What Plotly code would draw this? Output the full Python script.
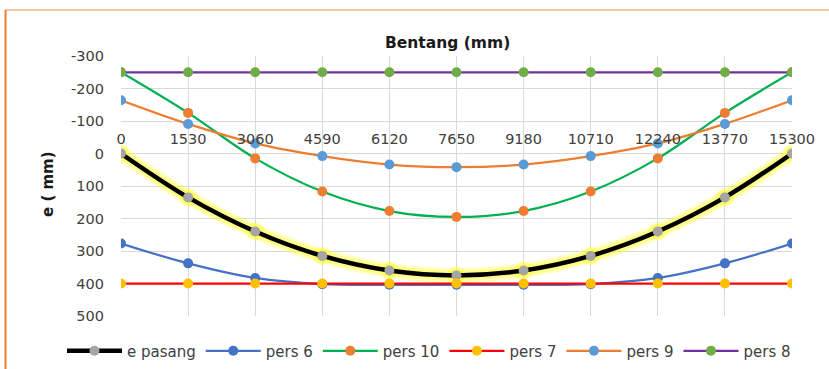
import plotly.graph_objects as go

# ---- data ----
bentang = [0, 1530, 3060, 4590, 6120, 7650, 9180, 10710, 12240, 13770, 15300]
e_pasang = [0, 135, 240, 315, 360, 375, 360, 315, 240, 135, 0]
pers_6 = [277, 338, 383, 402, 404, 404, 404, 402, 383, 338, 277]
pers_10 = [-250, -125, 15, 117, 177, 195, 177, 117, 15, -125, -250]
pers_7 = [400, 400, 400, 400, 400, 400, 400, 400, 400, 400, 400]
pers_9 = [-164, -91, -31, 8, 34, 42, 34, 8, -31, -91, -164]
pers_8 = [-250, -250, -250, -250, -250, -250, -250, -250, -250, -250, -250]
y_ticks = [-300, -200, -100, 0, 100, 200, 300, 400, 500]
y_ticktext = ["-300", "-200", "-100", "0", "100", "200", "300", "400", "500"]
x_ticktext = [str(v) for v in bentang]

# ---- layout geometry (pixels) ----
W, H = 829, 369
L, R, T, B = 121, 792, 56, 316
pw, ph = R - L, B - T


def px(x):
    return (x - L) / pw


def py(y):
    return (B - y) / ph


FONT = "DejaVu Sans"
fig = go.Figure()

# glow under e pasang
fig.add_trace(go.Scatter(x=bentang, y=e_pasang, mode="lines+markers",
                         line=dict(color="rgba(255,255,40,0.28)", width=15, shape="spline"),
                         marker=dict(size=19, color="rgba(255,255,40,0.28)"),
                         showlegend=False, hoverinfo="skip"))
fig.add_trace(go.Scatter(x=bentang, y=e_pasang, mode="lines+markers",
                         line=dict(color="rgba(255,250,60,0.45)", width=10, shape="spline"),
                         marker=dict(size=15, color="rgba(255,250,60,0.45)"),
                         showlegend=False, hoverinfo="skip"))

series = [
    ("e pasang", e_pasang, "#000000", "#a5a5a5", 4.5),
    ("pers 6", pers_6, "#4472c4", "#4472c4", 2.25),
    ("pers 10", pers_10, "#00b050", "#ed7d31", 2.25),
    ("pers 7", pers_7, "#ff0000", "#ffc000", 2.25),
    ("pers 9", pers_9, "#ed7d31", "#5b9bd5", 2.25),
    ("pers 8", pers_8, "#7030a0", "#70ad47", 2.25),
]
for name, vals, lc, mc, lw in series:
    fig.add_trace(go.Scatter(x=bentang, y=vals, name=name, mode="lines+markers",
                             line=dict(color=lc, width=lw, shape="spline", smoothing=1),
                             marker=dict(size=10, color=mc, line=dict(width=0))))

# position of x axis labels: just above y=0 line
y0_px = B - (500 - 0) / 800 * ph

fig.update_layout(
    width=W, height=H,
    margin=dict(l=L, r=W - R, t=T, b=H - B, pad=0, autoexpand=False),
    paper_bgcolor="white", plot_bgcolor="white",
    showlegend=True,
    legend=dict(orientation="h", x=px(62), xanchor="left", y=py(351), yanchor="middle",
                font=dict(family=FONT, size=15, color="#404040"), itemwidth=55,
                traceorder="normal"),
    xaxis=dict(range=[0, 15300], tickvals=bentang, ticktext=x_ticktext,
               showgrid=True, gridcolor="#d9d9d9", gridwidth=1.3, zeroline=False,
               showline=False, side="top", anchor="free", position=py(y0_px),
               ticks="", ticklabelstandoff=7,
               tickfont=dict(family=FONT, size=14.5, color="#404040")),
    yaxis=dict(range=[500, -300], tickvals=y_ticks, ticktext=y_ticktext,
               showgrid=True, gridcolor="#d9d9d9", gridwidth=1.3, zeroline=False,
               showline=False, ticks="", ticklabelstandoff=16,
               tickfont=dict(family=FONT, size=14.5, color="#404040")),
    annotations=[
        dict(text="<b>Bentang (mm)</b>", xref="paper", yref="paper",
             x=px(447), y=py(43), xanchor="center", yanchor="middle", showarrow=False,
             font=dict(family=FONT, size=15.5, color="#1a1a1a")),
        dict(text="<b>e ( mm)</b>", xref="paper", yref="paper", textangle=-90,
             x=px(48), y=py(184), xanchor="center", yanchor="middle", showarrow=False,
             font=dict(family=FONT, size=15, color="#1a1a1a")),
    ],
    shapes=[
        dict(type="line", xref="paper", yref="paper", x0=px(5), x1=px(829), y0=py(10), y1=py(10),
             line=dict(color="#f4b183", width=1.5)),
        dict(type="line", xref="paper", yref="paper", x0=px(5.5), x1=px(5.5), y0=py(10), y1=py(369),
             line=dict(color="#ed7d31", width=2)),
    ],
)

fig.write_html("out.html", config={"displayModeBar": False},
               post_script="document.body.style.margin='0px';")
